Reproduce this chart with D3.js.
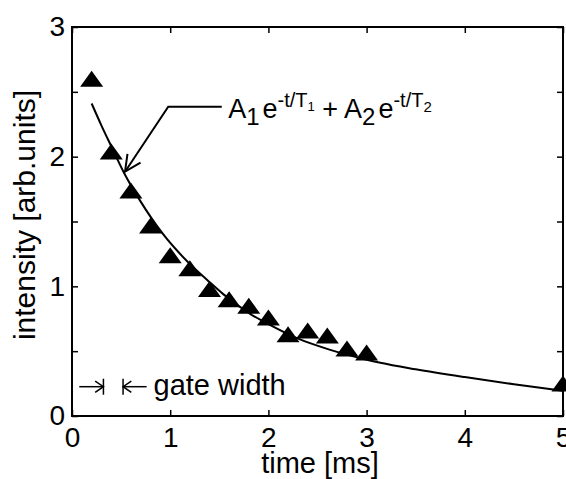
<!DOCTYPE html>
<html>
<head>
<meta charset="utf-8">
<script src="https://cdn.jsdelivr.net/npm/d3@7"></script>
<style>
  body { margin: 0; background: #fff; }
  text { font-family: "Liberation Sans", Arial, sans-serif; fill: #000; }
</style>
</head>
<body>
<div id="chart"></div>
<script>
// measured points (triangles)
var timeMs = [0.2, 0.4, 0.6, 0.8, 1.0, 1.2, 1.4, 1.6, 1.8, 2.0, 2.2, 2.4, 2.6, 2.8, 3.0, 5.0];
var intensity = [2.60, 2.04, 1.74, 1.47, 1.24, 1.14, 0.98, 0.90, 0.85, 0.76, 0.63, 0.66, 0.62, 0.52, 0.49, 0.25];

// double exponential fit
var fitTime = [0.2, 0.3, 0.4, 0.54, 0.69, 0.93, 1.19, 1.39, 1.54, 1.81, 2.02, 2.29, 2.63, 2.97, 3.14, 3.5, 4.0, 4.5, 5.0];
var fitValue = [2.41, 2.24, 2.08, 1.86, 1.665, 1.40, 1.18, 1.04, 0.94, 0.79, 0.70, 0.60, 0.51, 0.44, 0.41, 0.36, 0.30, 0.245, 0.195];

var xTicks = [0, 1, 2, 3, 4, 5];
var yTicks = [0, 0.5, 1, 1.5, 2, 2.5, 3];

// annotation anchors in data units
var fitArrow = {tipT: 0.54, tipY: 1.884, elbowT: 0.98, elbowY: 2.385, endT: 1.525};
var gate = {from: 0.32, to: 0.52, y: 0.226};

var margin = {top: 27, right: 3, bottom: 63, left: 72};
var svgWidth = 566, svgHeight = 479;
var innerWidth = svgWidth - margin.left - margin.right;
var innerHeight = svgHeight - margin.top - margin.bottom;

var svg = d3.select("#chart").append("svg")
    .attr("width", svgWidth)
    .attr("height", svgHeight);

var g = svg.append("g")
    .attr("transform", "translate(" + margin.left + "," + margin.top + ")");

var xScale = d3.scaleLinear().domain([0, 5]).range([0, innerWidth]);
var yScale = d3.scaleLinear().domain([0, 3]).range([innerHeight, 0]);

var fmt = function(d){ return d % 1 === 0 ? d : ""; };

// axes, ticks pointing inward
var axes = [
    {axis: d3.axisBottom(xScale).tickValues(xTicks).tickFormat(fmt), tr: "translate(0," + innerHeight + ")"},
    {axis: d3.axisTop(xScale).tickValues(xTicks).tickFormat(""), tr: "translate(0,0)"},
    {axis: d3.axisLeft(yScale).tickValues(yTicks).tickFormat(fmt), tr: "translate(0,0)"},
    {axis: d3.axisRight(yScale).tickValues(yTicks).tickFormat(""), tr: "translate(" + innerWidth + ",0)"}
];
axes.forEach(function(a, i){
    var ax = g.append("g")
        .attr("transform", a.tr)
        .call(a.axis.tickSizeInner(-6).tickSizeOuter(0).tickPadding(i == 0 ? 11 : 7));
    ax.select(".domain").remove();
    ax.selectAll("line").attr("stroke", "#000").attr("stroke-width", 1.5);
    ax.selectAll("text").style("font-size", "28px")
        .style("font-family", "Liberation Sans, Arial, sans-serif");
});

g.append("rect")
    .attr("width", innerWidth)
    .attr("height", innerHeight)
    .attr("fill", "none")
    .attr("stroke", "#000")
    .attr("stroke-width", 2);

// fit curve
var line = d3.line()
    .x(function(d, i){ return xScale(fitTime[i]); })
    .y(function(d){ return yScale(d); })
    .curve(d3.curveMonotoneX);

g.append("path")
    .datum(fitValue)
    .attr("d", line)
    .attr("fill", "none")
    .attr("stroke", "#000")
    .attr("stroke-width", 2);

// triangles
g.selectAll(".tri")
    .data(intensity)
    .enter().append("path")
    .attr("class", "tri")
    .attr("transform", function(d, i){ return "translate(" + xScale(timeMs[i]) + "," + yScale(d) + ")"; })
    .attr("d", "M0,-8L11.5,8L-11.5,8Z")
    .attr("fill", "#000");

// annotation arrow to the curve
var tipX = xScale(fitArrow.tipT), tipY = yScale(fitArrow.tipY);
var elX = xScale(fitArrow.elbowT), elY = yScale(fitArrow.elbowY);
g.append("path")
    .attr("d", "M" + xScale(fitArrow.endT) + "," + elY + "L" + elX + "," + elY + "L" + tipX + "," + tipY)
    .attr("fill", "none").attr("stroke", "#000").attr("stroke-width", 2);

function arrowHead(x, y, ang, len, spread){
    var p1 = [x + len * Math.cos(ang + spread), y + len * Math.sin(ang + spread)];
    var p2 = [x + len * Math.cos(ang - spread), y + len * Math.sin(ang - spread)];
    return "M" + p1 + "L" + x + "," + y + "L" + p2;
}
var back = Math.atan2(elY - tipY, elX - tipX);
g.append("path")
    .attr("d", arrowHead(tipX, tipY, back, 18, 0.45))
    .attr("fill", "none").attr("stroke", "#000").attr("stroke-width", 2);

// formula label
var formula = g.append("text")
    .attr("x", xScale(1.59))
    .attr("y", yScale(2.30))
    .style("font-size", "27px");
formula.append("tspan").text("A");
formula.append("tspan").text("1").attr("dy", 7).style("font-size", "24px");
formula.append("tspan").text("e").attr("dy", -7).attr("dx", 3);
formula.append("tspan").text("-t/T").attr("dy", -11).style("font-size", "20px");
formula.append("tspan").text("1").attr("dy", 4).style("font-size", "13px");
formula.append("tspan").text(" + A").attr("dy", 7);
formula.append("tspan").text("2").attr("dy", 7).style("font-size", "24px");
formula.append("tspan").text("e").attr("dy", -7).attr("dx", 3);
formula.append("tspan").text("-t/T").attr("dy", -11).style("font-size", "20px");
formula.append("tspan").text("2").attr("dy", 5).style("font-size", "15px");

// gate width marker
var gy = yScale(gate.y);
var gA = xScale(gate.from), gB = xScale(gate.to);
var gateMarks = [
    "M" + xScale(0.074) + "," + gy + "L" + gA + "," + gy,
    "M" + gA + "," + (gy - 8) + "L" + gA + "," + (gy + 8),
    arrowHead(gA, gy, Math.PI, 10, 0.6),
    "M" + xScale(0.76) + "," + gy + "L" + gB + "," + gy,
    "M" + gB + "," + (gy - 8) + "L" + gB + "," + (gy + 8),
    arrowHead(gB, gy, 0, 10, 0.6)
];
g.selectAll(".gate")
    .data(gateMarks)
    .enter().append("path")
    .attr("d", function(d){ return d; })
    .attr("fill", "none").attr("stroke", "#000").attr("stroke-width", 1.5);

g.append("text")
    .attr("x", xScale(0.83))
    .attr("y", gy + 8)
    .style("font-size", "29px")
    .text("gate width");

// axis titles
svg.append("text")
    .attr("transform", "translate(35," + 215 + ") rotate(-90)")
    .attr("text-anchor", "middle")
    .style("font-size", "30px")
    .text("intensity [arb.units]");

svg.append("text")
    .attr("x", 320)
    .attr("y", 473)
    .attr("text-anchor", "middle")
    .style("font-size", "29px")
    .text("time [ms]");
</script>
</body>
</html>
